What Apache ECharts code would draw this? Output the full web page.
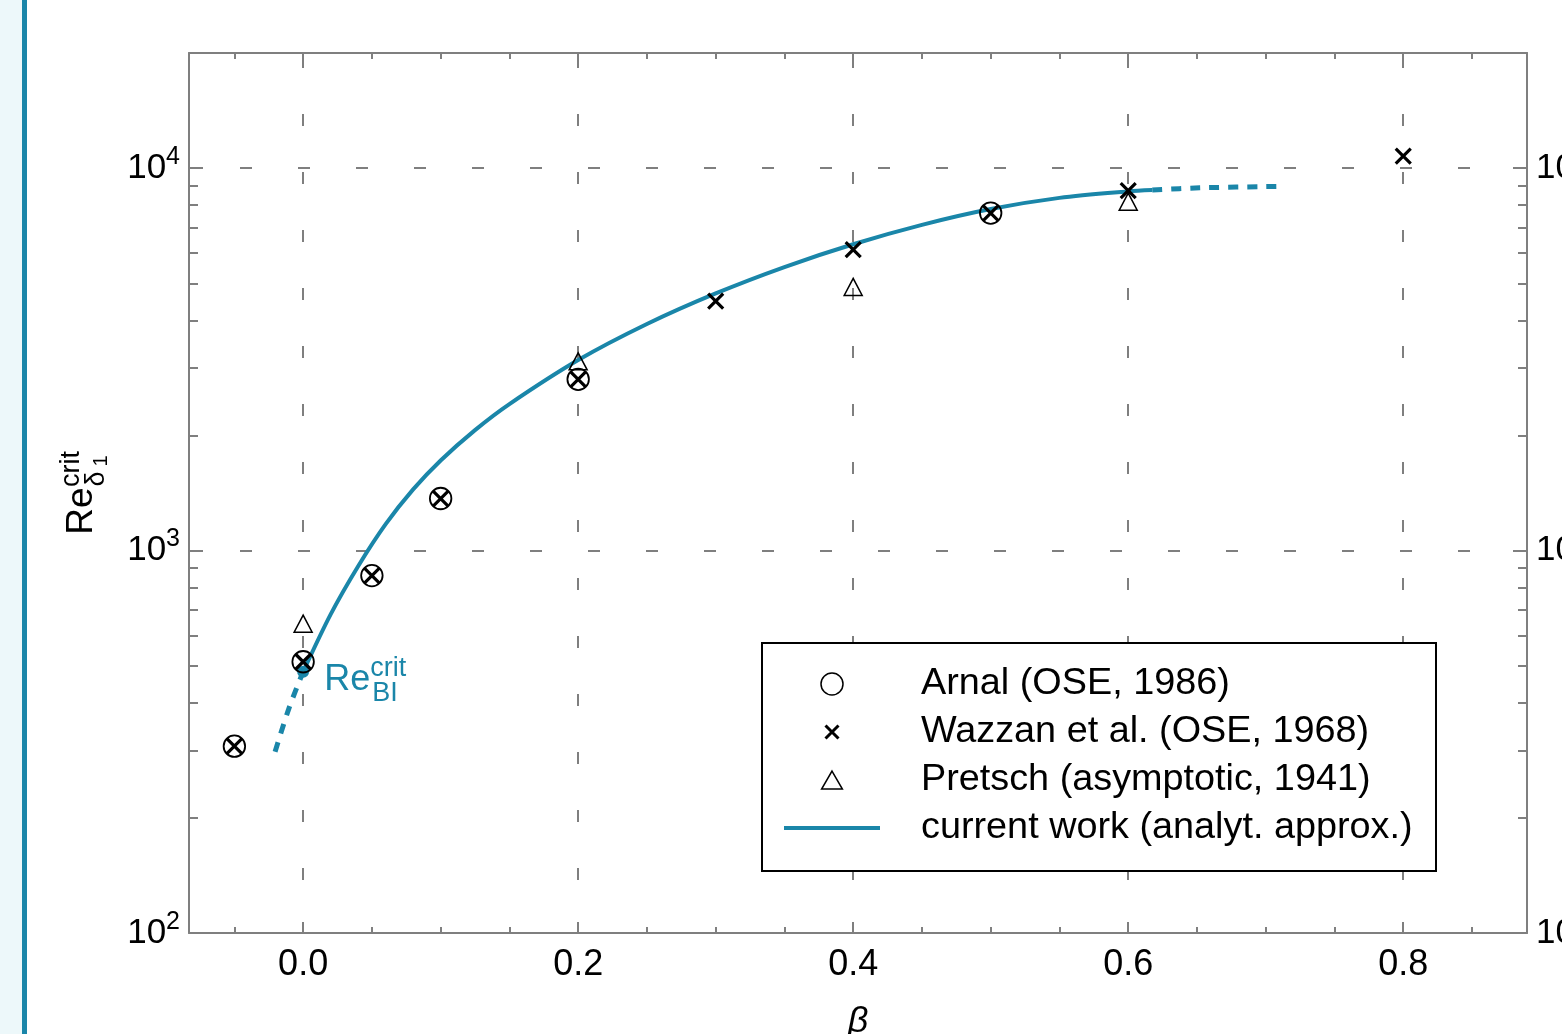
<!DOCTYPE html>
<html><head><meta charset="utf-8">
<script src="https://cdn.jsdelivr.net/npm/echarts@6/dist/echarts.min.js"></script>
<style>html,body{margin:0;padding:0;background:#fff}#c{width:1562px;height:1034px}</style>
</head><body><div id="c"></div>
<script>
// ---- data ----
const arnalBeta = [-0.05, 0, 0.05, 0.1, 0.2, 0.5];
const arnalRe = [308, 512, 860, 1368, 2804, 7630];
const wazzanBeta = [-0.05, 0, 0.05, 0.1, 0.2, 0.3, 0.4, 0.5, 0.6, 0.8];
const wazzanRe = [308, 512, 860, 1368, 2804, 4490, 6120, 7630, 8730, 10750];
const pretschBeta = [0, 0.2, 0.4, 0.6];
const pretschRe = [644, 3125, 4890, 8170];
const curveBeta = [0, 0.02, 0.04, 0.06, 0.08, 0.1, 0.125, 0.15, 0.2, 0.25, 0.3, 0.35, 0.4, 0.45, 0.5, 0.55, 0.6, 0.6175];
const curveRe = [482, 681, 910, 1172, 1445, 1720, 2065, 2415, 3148, 3911, 4702, 5512, 6322, 7105, 7815, 8360, 8690, 8760];
const curveExtBeta = [0.6175, 0.652, 0.7135];
const curveExtRe = [8760, 8880, 8960];
const curveLowBeta = [-0.0204, -0.0102, 0];
const curveLowRe = [298, 388, 482];
const reBlBeta = [0];
const reBlRe = [482];
const xMajorTicks = [0, 0.2, 0.4, 0.6, 0.8];
const xMinorTicks = [-0.05, 0.05, 0.1, 0.15, 0.25, 0.3, 0.35, 0.45, 0.5, 0.55, 0.65, 0.7, 0.75, 0.85];
const yMajorTicks = [100, 1000, 10000];
const yMinorTicks = [200, 300, 400, 500, 600, 700, 800, 900, 2000, 3000, 4000, 5000, 6000, 7000, 8000, 9000];
const legendNames = ['Arnal (OSE, 1986)', 'Wazzan et al. (OSE, 1968)', 'Pretsch (asymptotic, 1941)', 'current work (analyt. approx.)'];

// ---- styling ----
const F = 'Liberation Sans';
const TEAL = '#1a86a9';
const AX = '#7f7f7f';
const CROSS = 'path://M0,0L10,10M10,0L0,10';
const TRI = 'path://M0,-1L0.866,0.5L-0.866,0.5Z';
const HOLLOW = 'rgba(0,0,0,0)';
const pairs = (xs, ys) => xs.map((x, i) => [x, ys[i]]);

const yLabelRich = {
  b: {fontSize: 35, lineHeight: 36, fontFamily: F, color: '#000'},
  s: {fontSize: 25, lineHeight: 36, height: 14, verticalAlign: 'top', fontFamily: F, color: '#000'}
};
const yFmt = v => '{b|10}{s|' + Math.round(Math.log10(v)) + '}';

function xAxisDef(grid, pos, major) {
  return {
    gridIndex: grid, type: 'value', position: pos, min: -0.083, max: 0.89,
    axisLine: {show: major, onZero: false, lineStyle: {color: AX, width: 2}},
    axisTick: {show: true, inside: true, length: major ? 11 : 6,
      customValues: major ? xMajorTicks : xMinorTicks, lineStyle: {color: AX, width: 2}},
    axisLabel: {show: false},
    splitLine: {show: false}, minorTick: {show: false}, minorSplitLine: {show: false}
  };
}
function yAxisDef(grid, pos, major) {
  return {
    gridIndex: grid, type: 'log', logBase: 10, position: pos, min: 100, max: 20000,
    axisLine: {show: major, onZero: false, lineStyle: {color: AX, width: 2}},
    axisTick: {show: true, inside: true, length: major ? 14 : 9,
      customValues: major ? yMajorTicks : yMinorTicks, lineStyle: {color: AX, width: 2}},
    axisLabel: {show: false},
    splitLine: {show: false}, minorTick: {show: false}, minorSplitLine: {show: false}
  };
}

const xa0 = xAxisDef(0, 'bottom', true);
xa0.axisLabel = {show: true, customValues: xMajorTicks, formatter: v => v.toFixed(1),
  fontSize: 36, fontFamily: F, color: '#000', margin: 14};
xa0.splitLine = {show: true, lineStyle: {color: AX, width: 2, type: [12, 46], dashOffset: 55}};
xa0.name = 'β';
xa0.nameLocation = 'middle';
xa0.nameGap = 71;
xa0.nameTextStyle = {fontSize: 36, fontStyle: 'italic', fontFamily: F, color: '#000'};

const ya0 = yAxisDef(0, 'left', true);
ya0.axisLabel = {show: true, customValues: yMajorTicks, formatter: yFmt, margin: 9, rich: yLabelRich};
ya0.splitLine = {show: true, lineStyle: {color: AX, width: 2, type: [12, 46], dashOffset: 7}};
ya0.name = '{re|Re}{sup|crit}\n{gap|}{sub|δ}{ss|1}';
ya0.nameLocation = 'middle';
ya0.nameRotate = 90;
ya0.nameGap = 91;
ya0.nameTextStyle = {fontFamily: F, color: '#000', rich: {
  re: {fontSize: 37, lineHeight: 26, height: 26, width: 48, fontFamily: F, color: '#000'},
  sup: {fontSize: 27, lineHeight: 5, height: 5, verticalAlign: 'top', width: 36, fontFamily: F, color: '#000'},
  gap: {width: 48, lineHeight: 1, height: 1},
  sub: {fontSize: 27, lineHeight: 3, height: 3, verticalAlign: 'top', width: 16, fontFamily: F, color: '#000'},
  ss: {fontSize: 20, lineHeight: 3, height: 3, padding: [5, 0, 0, 0], verticalAlign: 'top', width: 20, fontFamily: F, color: '#000'}
}};

const ya1 = yAxisDef(0, 'right', true);
ya1.axisLabel = {show: true, customValues: yMajorTicks, formatter: yFmt, margin: 9, rich: yLabelRich};

const legendBase = {
  orient: 'vertical', itemWidth: 96, padding: 0, itemGap: 0,
  symbolKeepAspect: true, selectedMode: false,
  textStyle: {fontSize: 37.8, fontFamily: F, color: '#000', lineHeight: 40, padding: [0, 0, 0, 36]}
};
const legendRows = [684, 732, 780, 828];

const option = {
  animation: false,
  backgroundColor: '#fff',
  grid: [
    {left: 189, right: 35, top: 53, bottom: 101, containLabel: false, outerBoundsMode: 'none'},
    {left: 189, right: 35, top: 53, bottom: 101, containLabel: false, outerBoundsMode: 'none'}
  ],
  xAxis: [xa0, xAxisDef(0, 'top', true), xAxisDef(1, 'bottom', false), xAxisDef(1, 'top', false)],
  yAxis: [ya0, ya1, yAxisDef(1, 'left', false), yAxisDef(1, 'right', false)],
  legend: [
    Object.assign({}, legendBase, {left: 832 - 11.75, top: legendRows[0] - 20, itemHeight: 22,
      data: [{name: legendNames[0], icon: 'circle', itemStyle: {color: HOLLOW, borderColor: '#000', borderWidth: 1.5}}]}),
    Object.assign({}, legendBase, {left: 832 - 8, top: legendRows[1] - 20, itemHeight: 13,
      data: [{name: legendNames[1], icon: CROSS, itemStyle: {color: HOLLOW, borderColor: '#000', borderWidth: 3}}]}),
    Object.assign({}, legendBase, {left: 832 - 11.14, top: legendRows[2] - 20, itemHeight: 18,
      data: [{name: legendNames[2], icon: TRI, itemStyle: {color: HOLLOW, borderColor: '#000', borderWidth: 1.5}}]}),
    Object.assign({}, legendBase, {left: 784, top: legendRows[3] - 20, itemHeight: 4,
      data: [{name: legendNames[3], icon: 'rect', itemStyle: {color: TEAL, borderWidth: 0}}]})
  ],
  graphic: [
    {type: 'rect', shape: {x: 0, y: 0, width: 22, height: 1034}, style: {fill: '#edf8fa'}, silent: true, z: 0},
    {type: 'rect', shape: {x: 22, y: 0, width: 5, height: 1034}, style: {fill: TEAL}, silent: true, z: 0},
    {type: 'rect', shape: {x: 762, y: 643, width: 674, height: 228}, style: {fill: '#fff', stroke: '#000', lineWidth: 2}, silent: true, z: 3}
  ],
  series: [
    {type: 'line', name: legendNames[3], xAxisIndex: 0, yAxisIndex: 0, data: pairs(curveBeta, curveRe),
      symbol: 'none', smooth: 0.3, lineStyle: {color: TEAL, width: 4}, itemStyle: {color: TEAL}, z: 3, silent: true},
    {type: 'line', name: 'extrapolation', xAxisIndex: 0, yAxisIndex: 0, data: pairs(curveExtBeta, curveExtRe),
      symbol: 'none', smooth: 0.3, lineStyle: {color: TEAL, width: 5, type: [10, 9]}, z: 3, silent: true},
    {type: 'line', name: 'lower', xAxisIndex: 0, yAxisIndex: 0, data: pairs(curveLowBeta, curveLowRe),
      symbol: 'none', smooth: 0.3, lineStyle: {color: TEAL, width: 5, type: [10, 9]}, z: 3, silent: true},
    {type: 'scatter', name: 'ReBI', xAxisIndex: 0, yAxisIndex: 0, data: pairs(reBlBeta, reBlRe),
      symbol: 'circle', symbolSize: 12, itemStyle: {color: TEAL, opacity: 1}, z: 4, silent: true,
      label: {show: true, position: 'right', distance: 15, offset: [0, 9], color: TEAL, fontFamily: F,
        formatter: '{re|Re}{sup|crit}\n{gap|}{sub|BI}',
        rich: {
          re: {fontSize: 36, lineHeight: 26, height: 26, width: 46, fontFamily: F, color: TEAL},
          sup: {fontSize: 27, lineHeight: 2, height: 2, verticalAlign: 'top', fontFamily: F, color: TEAL},
          gap: {width: 48, lineHeight: 1, height: 1},
          sub: {fontSize: 27, lineHeight: 1, height: 1, verticalAlign: 'top', fontFamily: F, color: TEAL}
        }}},
    {type: 'scatter', name: legendNames[0], xAxisIndex: 0, yAxisIndex: 0, data: pairs(arnalBeta, arnalRe),
      symbol: 'circle', symbolSize: 21.5, itemStyle: {color: HOLLOW, borderColor: '#000', borderWidth: 1.8, opacity: 1}, z: 5, silent: true},
    {type: 'scatter', name: legendNames[1], xAxisIndex: 0, yAxisIndex: 0, data: pairs(wazzanBeta, wazzanRe),
      symbol: CROSS, symbolSize: 15, itemStyle: {color: HOLLOW, borderColor: '#000', borderWidth: 3.2, opacity: 1}, z: 6, silent: true},
    {type: 'scatter', name: legendNames[2], xAxisIndex: 0, yAxisIndex: 0, data: pairs(pretschBeta, pretschRe),
      symbol: 'triangle', symbolSize: [18, 17], itemStyle: {color: HOLLOW, borderColor: '#000', borderWidth: 1.5, opacity: 1}, z: 5, silent: true}
  ]
};
const chart = echarts.init(document.getElementById('c'), null, {renderer: 'canvas'});
chart.setOption(option);
</script>
</body></html>
